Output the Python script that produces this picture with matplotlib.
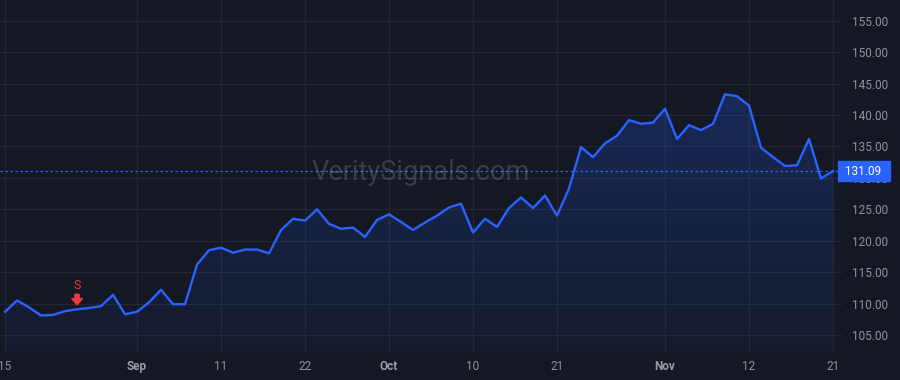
import matplotlib
matplotlib.use("Agg")
import matplotlib.pyplot as plt
import numpy as np
from matplotlib.colors import to_rgb
import matplotlib.transforms as mtransforms

# ------------------------------------------------------------
# data
# ------------------------------------------------------------
prices = [108.7, 110.5, 109.4, 108.1, 108.2, 108.8, 109.1, 109.3, 109.6, 111.4,
          108.3, 108.7, 110.2, 112.2, 109.9, 109.9, 116.2, 118.5, 118.9, 118.1,
          118.6, 118.6, 118.0, 121.7, 123.5, 123.2, 125.0, 122.7, 121.9, 122.1,
          120.6, 123.3, 124.2, 123.0, 121.7, 122.9, 124.0, 125.3, 125.9, 121.3,
          123.5, 122.2, 125.2, 126.9, 125.2, 127.2, 124.0, 128.3, 134.9, 133.3,
          135.5, 136.7, 139.2, 138.6, 138.8, 141.0, 136.2, 138.4, 137.6, 138.6,
          143.3, 143.0, 141.5, 134.8, 133.3, 131.9, 132.0, 136.2, 129.9, 131.09]

tick_idx = [0, 11, 18, 25, 32, 39, 46, 55, 62, 69]
tick_labels = ["15", "Sep", "11", "22", "Oct", "10", "21", "Nov", "12", "21"]
month_labels = ["Sep", "Oct", "Nov"]

y_ticks = [105, 110, 115, 120, 125, 130, 135, 140, 145, 150, 155]

signal_idx = 6
signal_text = "S"
last_price = prices[-1]

# ------------------------------------------------------------
# style
# ------------------------------------------------------------
BG = "#141823"
GRID = "#232734"
LINE = "#2962ff"
RED = "#f23645"
TXT = "#8f939c"

plt.rcParams["font.family"] = ["Roboto", "DejaVu Sans"]

fig = plt.figure(figsize=(9, 3.8), dpi=100, facecolor=BG)
ax = fig.add_axes([0, 28 / 380, 842 / 900, 352 / 380])
ax.set_facecolor(BG)

x = np.arange(len(prices))
ax.set_xlim(-0.42, 69.75)
ax.set_ylim(102.3, 158.3)

for s in ax.spines.values():
    s.set_visible(False)

# grid
for t in tick_idx:
    ax.axvline(t, color=GRID, lw=0.9, zorder=0)
for t in y_ticks:
    ax.axhline(t, color=GRID, lw=0.9, zorder=0)

# gradient area under the line
top = max(prices)
bottom = 102.3
n = 256
rgb = to_rgb(LINE)
img = np.zeros((n, 1, 4))
img[:, :, :3] = rgb
img[:, :, 3] = np.linspace(0.04, 0.24, n)[:, None]
poly = ax.fill_between(x, prices, bottom, color="none", lw=0)
im = ax.imshow(img, aspect="auto", origin="lower",
               extent=[x[0], x[-1], bottom, top], zorder=1)
im.set_clip_path(poly.get_paths()[0], transform=ax.transData)

ax.plot(x, prices, color=LINE, lw=1.7, zorder=3, solid_joinstyle="round")

# last price line + label
ax.axhline(last_price, color=LINE, lw=0.9, ls=(0, (2, 2)), zorder=2)
trans = mtransforms.blended_transform_factory(ax.transAxes, ax.transData)
ax.text(1.0, last_price, f" {last_price:.2f}  ", transform=trans,
        ha="left", va="center", color="white", fontsize=8.5, zorder=10,
        bbox=dict(boxstyle="square,pad=0.3", fc=LINE, ec=LINE), clip_on=False)

# signal marker
ax.annotate("", xy=(signal_idx, prices[signal_idx]), xycoords="data",
            xytext=(0, 10.8), textcoords="offset points",
            arrowprops=dict(arrowstyle="simple,head_length=0.45,head_width=0.75,tail_width=0.3",
                            mutation_scale=10, color=RED, shrinkA=0, shrinkB=3.2),
            zorder=4)
ax.annotate(signal_text, xy=(signal_idx, prices[signal_idx]), xycoords="data",
            xytext=(0, 16.8), textcoords="offset points",
            ha="center", va="center", color=RED, fontsize=9, zorder=4)

# watermark
ax.text(0.5, 0.51, "VeritySignals.com", transform=ax.transAxes, ha="center", va="center",
        fontsize=19.5, color="#ffffff", alpha=0.16, zorder=2)

# axes ticks
ax.yaxis.tick_right()
ax.set_yticks(y_ticks)
ax.set_yticklabels([f"{v:.2f}" for v in y_ticks])
ax.tick_params(axis="y", length=0, pad=7.5, labelsize=8.5, labelcolor=TXT)

ax.set_xticks(tick_idx)
ax.set_xticklabels(tick_labels)
ax.tick_params(axis="x", length=0, pad=6, labelsize=8.5, labelcolor=TXT)
for lab in ax.get_xticklabels():
    if lab.get_text() in month_labels:
        lab.set_fontweight("bold")
        lab.set_color("#9a9ea7")

fig.savefig("out.png", dpi=100, facecolor=BG)
